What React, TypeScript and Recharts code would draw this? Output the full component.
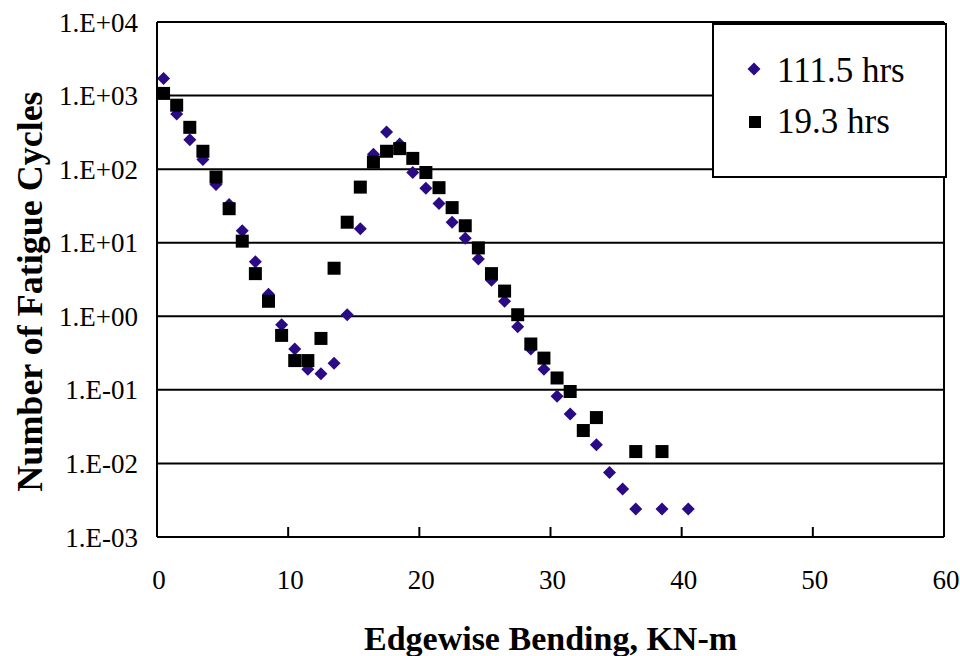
import React from 'react';
import { ScatterChart, Scatter, XAxis, YAxis, CartesianGrid, ReferenceLine, Legend } from 'recharts';

// Edgewise bending moment bins (KN-m)
const bending111 = [0.5, 1.5, 2.5, 3.5, 4.5, 5.5, 6.5, 7.5, 8.5, 9.5, 10.5, 11.5, 12.5, 13.5, 14.5, 15.5, 16.5, 17.5, 18.5, 19.5, 20.5, 21.5, 22.5, 23.5, 24.5, 25.5, 26.5, 27.5, 28.5, 29.5, 30.5, 31.5, 32.5, 33.5, 34.5, 35.5, 36.5, 38.5, 40.5];
const cycles111 = [1700, 560, 250, 135, 62, 33, 14.5, 5.5, 2.0, 0.77, 0.36, 0.19, 0.165, 0.23, 1.05, 15.5, 160, 320, 220, 90, 55, 34, 19, 11.5, 6, 3.1, 1.6, 0.72, 0.36, 0.19, 0.082, 0.047, 0.028, 0.018, 0.0075, 0.0045, 0.0024, 0.0024, 0.0024];

const bending193 = [0.5, 1.5, 2.5, 3.5, 4.5, 5.5, 6.5, 7.5, 8.5, 9.5, 10.5, 11.5, 12.5, 13.5, 14.5, 15.5, 16.5, 17.5, 18.5, 19.5, 20.5, 21.5, 22.5, 23.5, 24.5, 25.5, 26.5, 27.5, 28.5, 29.5, 30.5, 31.5, 32.5, 33.5, 36.5, 38.5];
const cycles193 = [1070, 740, 370, 175, 78, 29, 10.5, 3.8, 1.6, 0.55, 0.25, 0.25, 0.5, 4.5, 19, 57, 125, 175, 190, 140, 90, 56, 30, 17, 8.5, 3.8, 2.2, 1.05, 0.42, 0.27, 0.145, 0.095, 0.028, 0.042, 0.0145, 0.0145];

const xTicks = [0, 10, 20, 30, 40, 50, 60];
const yTicks = [0.001, 0.01, 0.1, 1, 10, 100, 1000, 10000];

const seriesNames = ['111.5 hrs', '19.3 hrs'];
const xTitle = 'Edgewise Bending, KN-m';
const yTitle = 'Number of Fatigue Cycles';

const data111 = bending111.map((x, i) => ({ x, y: cycles111[i] }));
const data193 = bending193.map((x, i) => ({ x, y: cycles193[i] }));

const DIAMOND = '#2a0a85';
const FONT = '"Liberation Serif", "Times New Roman", serif';

const fmtY = (v: number) => {
  const e = Math.round(Math.log10(v));
  const a = Math.abs(e);
  return '1.E' + (e >= 0 ? '+' : '-') + (a < 10 ? '0' + a : String(a));
};

const Diamond = (p: any) => {
  const { cx, cy } = p;
  if (cx == null || cy == null) return <g />;
  const r = 6.5;
  return <path d={`M${cx},${cy - r}L${cx + r},${cy}L${cx},${cy + r}L${cx - r},${cy}Z`} fill={DIAMOND} />;
};

const Square = (p: any) => {
  const { cx, cy } = p;
  if (cx == null || cy == null) return <g />;
  return <rect x={cx - 6.5} y={cy - 6.5} width={13} height={13} fill="#000" />;
};

const XTick = (p: any) => {
  const { x, y, payload } = p;
  return (
    <g>
      <line x1={x} x2={x} y1={y} y2={y - 10} stroke="#000" strokeWidth={2} />
      <text x={x + 2} y={y + 52} textAnchor="middle" fontFamily={FONT} fontSize={27} fill="#000">
        {payload.value}
      </text>
    </g>
  );
};

const LegendBox = () => (
  <div
    style={{
      position: 'relative',
      width: 235,
      height: 155,
      boxSizing: 'border-box',
      border: '2px solid #000',
      background: '#fff',
      fontFamily: FONT,
      fontSize: 35,
      color: '#000',
    }}
  >
    <svg style={{ position: 'absolute', left: 32, top: 36 }} width={16} height={16}>
      <path d="M8,1.5L14.5,8L8,14.5L1.5,8Z" fill={DIAMOND} />
    </svg>
    <div style={{ position: 'absolute', left: 63, top: 28, lineHeight: '35px', whiteSpace: 'nowrap' }}>{seriesNames[0]}</div>
    <svg style={{ position: 'absolute', left: 33, top: 89 }} width={16} height={16}>
      <rect x={2} y={2} width={12} height={12} fill="#000" />
    </svg>
    <div style={{ position: 'absolute', left: 63, top: 79, lineHeight: '35px', whiteSpace: 'nowrap' }}>{seriesNames[1]}</div>
  </div>
);

export default function App() {
  return (
    <div style={{ position: 'absolute', left: 0, top: 0, width: 960, height: 656, background: '#fff' }}>
      <ScatterChart width={960} height={656} margin={{ top: 22, right: 16, bottom: 0, left: 0 }}>
        <CartesianGrid vertical={false} stroke="#000" strokeWidth={2} />
        <XAxis
          type="number"
          dataKey="x"
          domain={[0, 60]}
          ticks={xTicks}
          interval={0}
          height={119}
          tickLine={false}
          tickSize={0}
          tickMargin={0}
          axisLine={{ stroke: '#000', strokeWidth: 2 }}
          tick={<XTick />}
          label={(props: any) => {
            const vb = props.viewBox || {};
            return (
              <text
                x={vb.x + vb.width / 2}
                y={vb.y + 113}
                textAnchor="middle"
                fontFamily={FONT}
                fontWeight="bold"
                fontSize={34}
                fill="#000"
              >
                {xTitle}
              </text>
            );
          }}
        />
        <YAxis
          type="number"
          dataKey="y"
          scale="log"
          domain={[0.001, 10000]}
          allowDataOverflow
          ticks={yTicks}
          interval={0}
          width={157}
          tickLine={false}
          tickSize={0}
          tickMargin={19}
          axisLine={{ stroke: '#000', strokeWidth: 2 }}
          tickFormatter={fmtY}
          tick={{ fontFamily: FONT, fontSize: 27, fill: '#000' }}
          label={(props: any) => {
            const vb = props.viewBox || {};
            const cx = 42;
            const cy = vb.y + vb.height / 2 + 12;
            return (
              <text
                x={cx}
                y={cy}
                transform={`rotate(-90, ${cx}, ${cy})`}
                textAnchor="middle"
                fontFamily={FONT}
                fontWeight="bold"
                fontSize={36}
                fill="#000"
              >
                {yTitle}
              </text>
            );
          }}
        />
        <ReferenceLine y={10000} stroke="#000" strokeWidth={2} />
        <ReferenceLine x={60} stroke="#000" strokeWidth={2} />
        <Scatter name={seriesNames[0]} data={data111} shape={<Diamond />} isAnimationActive={false} />
        <Scatter name={seriesNames[1]} data={data193} shape={<Square />} isAnimationActive={false} />
        <Legend
          layout="vertical"
          align="center"
          verticalAlign="middle"
          content={<LegendBox />}
          wrapperStyle={{ left: 712, top: 23, width: 235, height: 155 }}
        />
      </ScatterChart>
    </div>
  );
}
